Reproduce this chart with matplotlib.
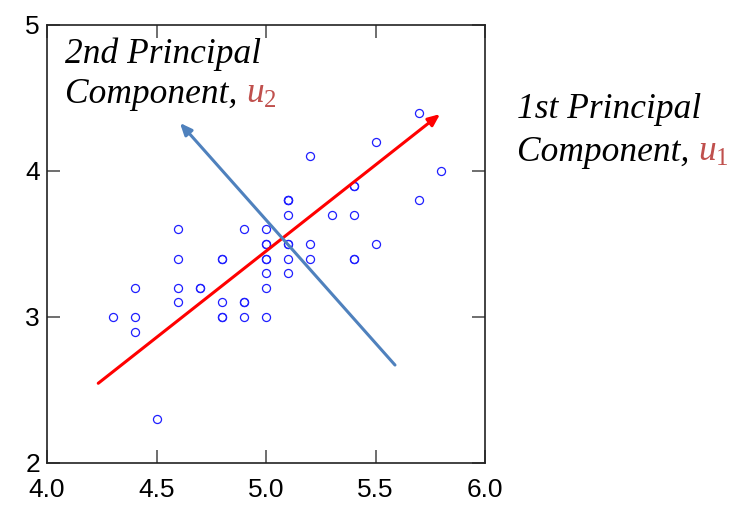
import matplotlib
matplotlib.use("Agg")
import matplotlib.pyplot as plt

plt.rcParams['mathtext.fontset'] = 'custom'
plt.rcParams['mathtext.rm'] = 'Liberation Serif'
plt.rcParams['mathtext.it'] = 'Liberation Serif:italic'

# Iris setosa: sepal length vs sepal width
sepal_length = [5.1, 4.9, 4.7, 4.6, 5.0, 5.4, 4.6, 5.0, 4.4, 4.9,
                5.4, 4.8, 4.8, 4.3, 5.8, 5.7, 5.4, 5.1, 5.7, 5.1,
                5.4, 5.1, 4.6, 5.1, 4.8, 5.0, 5.0, 5.2, 5.2, 4.7,
                4.8, 5.4, 5.2, 5.5, 4.9, 5.0, 5.5, 4.9, 4.4, 5.1,
                5.0, 4.5, 4.4, 5.0, 5.1, 4.8, 5.1, 4.6, 5.3, 5.0]
sepal_width = [3.5, 3.0, 3.2, 3.1, 3.6, 3.9, 3.4, 3.4, 2.9, 3.1,
               3.7, 3.4, 3.0, 3.0, 4.0, 4.4, 3.9, 3.5, 3.8, 3.8,
               3.4, 3.7, 3.6, 3.3, 3.4, 3.0, 3.4, 3.5, 3.4, 3.2,
               3.1, 3.4, 4.1, 4.2, 3.1, 3.2, 3.5, 3.6, 3.0, 3.4,
               3.5, 2.3, 3.2, 3.5, 3.8, 3.0, 3.8, 3.2, 3.7, 3.3]

# principal component arrows: (tail, head) in data coords
pc1_tail = (4.234, 2.546)
pc1_head = (5.795, 4.390)
pc2_tail = (5.589, 2.671)
pc2_head = (4.607, 4.329)

xticks = [4.0, 4.5, 5.0, 5.5, 6.0]
xticklabels = ["4.0", "4.5", "5.0", "5.5", "6.0"]
yticks = [2, 3, 4, 5]
yticklabels = ["2", "3", "4", "5"]

fig = plt.figure(figsize=(7.32, 5.30), dpi=100)
ax = fig.add_axes([47/732, 1-463/530, (485-47)/732, (463-25)/530])

ax.plot(sepal_length, sepal_width, linestyle='none', marker='o',
        markersize=5.8, markerfacecolor='none', markeredgecolor='#1f1fff',
        markeredgewidth=0.9, zorder=2)

ax.annotate('', xy=pc1_head, xytext=pc1_tail,
            arrowprops=dict(arrowstyle='-|>,head_length=0.7,head_width=0.3',
                            color='#ff0000', lw=2.2, shrinkA=0, shrinkB=0),
            zorder=3)
ax.annotate('', xy=pc2_head, xytext=pc2_tail,
            arrowprops=dict(arrowstyle='-|>,head_length=0.7,head_width=0.3',
                            color='#4f81bd', lw=2.2, shrinkA=0, shrinkB=0),
            zorder=3)

ax.set_xlim(4.0, 6.0)
ax.set_ylim(2, 5)
ax.set_xticks(xticks)
ax.set_xticklabels(xticklabels)
ax.set_yticks(yticks)
ax.set_yticklabels(yticklabels)
ax.tick_params(direction='in', length=9.5, width=1.2, color='#555555',
               top=True, right=True, labelsize=19)
ax.tick_params(axis='x', pad=11)
ax.tick_params(axis='y', pad=5)
for lab in ax.get_xticklabels() + ax.get_yticklabels():
    lab.set_fontfamily('Liberation Sans')
for s in ax.spines.values():
    s.set_linewidth(1.2)
    s.set_color('#222222')

tfont = dict(family='Liberation Serif', style='italic', size=25.5)
red = '#c0504d'

def two_part(x_px, y_px, black, mathtxt):
    t = fig.text(x_px/732, 1-y_px/530, black, color='black',
                 ha='left', va='baseline', **tfont)
    fig.canvas.draw()
    bb = t.get_window_extent()
    fig.text(bb.x1/732, 1-y_px/530, mathtxt, color=red,
             ha='left', va='baseline', size=25.5)

fig.text(65/732, 1-63/530, '2nd Principal', color='black', ha='left',
         va='baseline', **tfont)
two_part(65, 103, 'Component, ', r'$u_2$')
fig.text(517/732, 1-118/530, '1st Principal', color='black', ha='left',
         va='baseline', **tfont)
two_part(517, 161, 'Component, ', r'$u_1$')

fig.savefig('out.png', dpi=100)
